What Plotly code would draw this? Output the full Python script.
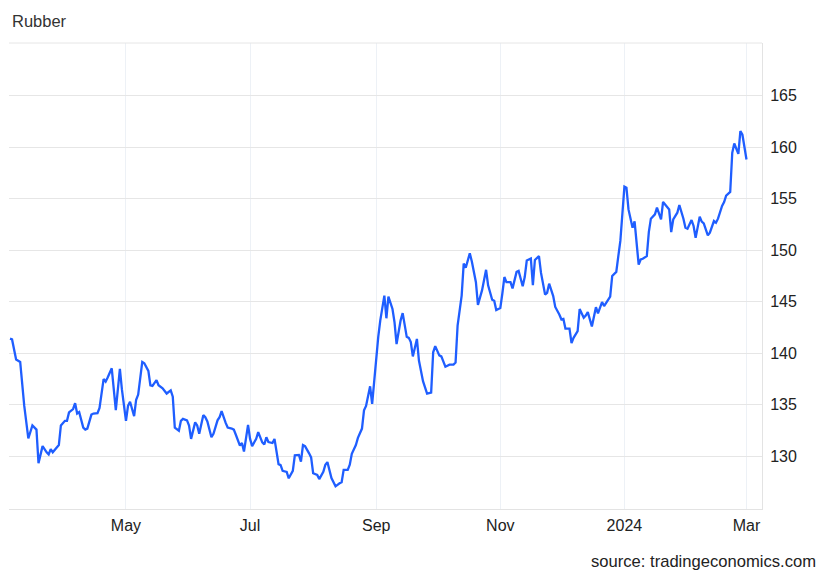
import plotly.graph_objects as go

dates = [
    "2023-03-05", "2023-03-06", "2023-03-08", "2023-03-09", "2023-03-10", "2023-03-12", "2023-03-14", "2023-03-16",
    "2023-03-18", "2023-03-19", "2023-03-21", "2023-03-23", "2023-03-24", "2023-03-25", "2023-03-26", "2023-03-29",
    "2023-03-30", "2023-04-01", "2023-04-02", "2023-04-03", "2023-04-05", "2023-04-06", "2023-04-07", "2023-04-08",
    "2023-04-10", "2023-04-11", "2023-04-12", "2023-04-14", "2023-04-15", "2023-04-17", "2023-04-18", "2023-04-20",
    "2023-04-21", "2023-04-22", "2023-04-24", "2023-04-26", "2023-04-28", "2023-04-29", "2023-05-01", "2023-05-02",
    "2023-05-03", "2023-05-05", "2023-05-06", "2023-05-07", "2023-05-09", "2023-05-10", "2023-05-12", "2023-05-13",
    "2023-05-14", "2023-05-16", "2023-05-17", "2023-05-19", "2023-05-21", "2023-05-23", "2023-05-24", "2023-05-25",
    "2023-05-27", "2023-05-28", "2023-05-29", "2023-05-31", "2023-06-01", "2023-06-02", "2023-06-04", "2023-06-05",
    "2023-06-06", "2023-06-08", "2023-06-09", "2023-06-10", "2023-06-12", "2023-06-13", "2023-06-15", "2023-06-16",
    "2023-06-17", "2023-06-19", "2023-06-20", "2023-06-22", "2023-06-23", "2023-06-24", "2023-06-26", "2023-06-27",
    "2023-06-28", "2023-06-30", "2023-07-01", "2023-07-02", "2023-07-04", "2023-07-05", "2023-07-07", "2023-07-08",
    "2023-07-09", "2023-07-10", "2023-07-12", "2023-07-13", "2023-07-15", "2023-07-16", "2023-07-17", "2023-07-19",
    "2023-07-20", "2023-07-22", "2023-07-23", "2023-07-25", "2023-07-26", "2023-07-27", "2023-07-28", "2023-07-30",
    "2023-07-31", "2023-08-01", "2023-08-03", "2023-08-04", "2023-08-06", "2023-08-07", "2023-08-08", "2023-08-10",
    "2023-08-11", "2023-08-12", "2023-08-14", "2023-08-15", "2023-08-16", "2023-08-18", "2023-08-19", "2023-08-20",
    "2023-08-22", "2023-08-23", "2023-08-25", "2023-08-26", "2023-08-27", "2023-08-29", "2023-08-30", "2023-09-01",
    "2023-09-02", "2023-09-03", "2023-09-05", "2023-09-06", "2023-09-07", "2023-09-09", "2023-09-10", "2023-09-11",
    "2023-09-13", "2023-09-14", "2023-09-16", "2023-09-17", "2023-09-18", "2023-09-19", "2023-09-21", "2023-09-22",
    "2023-09-24", "2023-09-25", "2023-09-26", "2023-09-28", "2023-09-29", "2023-09-30", "2023-10-02", "2023-10-03",
    "2023-10-05", "2023-10-06", "2023-10-07", "2023-10-09", "2023-10-10", "2023-10-11", "2023-10-13", "2023-10-14",
    "2023-10-15", "2023-10-17", "2023-10-18", "2023-10-20", "2023-10-21", "2023-10-22", "2023-10-23", "2023-10-25",
    "2023-10-26", "2023-10-28", "2023-10-29", "2023-10-30", "2023-11-01", "2023-11-02", "2023-11-03", "2023-11-04",
    "2023-11-06", "2023-11-07", "2023-11-09", "2023-11-10", "2023-11-12", "2023-11-13", "2023-11-14", "2023-11-16",
    "2023-11-17", "2023-11-18", "2023-11-20", "2023-11-21", "2023-11-23", "2023-11-24", "2023-11-25", "2023-11-27",
    "2023-11-28", "2023-11-30", "2023-12-01", "2023-12-02", "2023-12-03", "2023-12-05", "2023-12-06", "2023-12-07",
    "2023-12-09", "2023-12-10", "2023-12-12", "2023-12-13", "2023-12-14", "2023-12-16", "2023-12-17", "2023-12-18",
    "2023-12-19", "2023-12-21", "2023-12-22", "2023-12-24", "2023-12-25", "2023-12-26", "2023-12-28", "2023-12-29",
    "2023-12-30", "2024-01-01", "2024-01-02", "2024-01-03", "2024-01-05", "2024-01-06", "2024-01-08", "2024-01-09",
    "2024-01-10", "2024-01-12", "2024-01-13", "2024-01-14", "2024-01-16", "2024-01-17", "2024-01-19", "2024-01-20",
    "2024-01-21", "2024-01-23", "2024-01-24", "2024-01-25", "2024-01-27", "2024-01-28", "2024-01-30", "2024-01-31",
    "2024-02-01", "2024-02-03", "2024-02-04", "2024-02-05", "2024-02-07", "2024-02-08", "2024-02-09", "2024-02-11",
    "2024-02-12", "2024-02-14", "2024-02-15", "2024-02-16", "2024-02-18", "2024-02-19", "2024-02-20", "2024-02-22",
    "2024-02-23", "2024-02-24", "2024-02-26", "2024-02-27", "2024-02-28", "2024-03-01",
]

prices = [
    141.42, 141.35, 139.4, 139.26, 139.16, 134.9, 131.74, 133.0,
    132.6, 129.35, 131.0, 130.4, 130.2, 130.7, 130.4, 131.1,
    133.0, 133.45, 133.45, 134.26, 134.6, 135.16, 134.16, 134.3,
    132.8, 132.6, 132.7, 134.06, 134.16, 134.2, 134.7, 137.5,
    137.26, 137.65, 138.55, 134.5, 138.5, 136.5, 133.45, 134.9,
    135.3, 133.9, 135.5, 136.0, 139.16, 139.03, 138.3, 136.9,
    136.84, 137.4, 136.9, 136.6, 136.1, 136.4, 135.8, 132.8,
    132.5, 133.45, 133.64, 133.5, 133.0, 131.7, 133.3, 133.0,
    132.2, 134.0, 133.8, 133.4, 131.86, 132.2, 133.5, 133.8,
    134.4, 133.25, 132.8, 132.7, 132.6, 132.1, 131.05, 131.3,
    130.47, 133.06, 131.7, 131.0, 131.7, 132.35, 131.36, 131.15,
    131.86, 131.4, 131.3, 131.7, 129.25, 129.15, 128.6, 128.5,
    127.88, 128.6, 130.1, 130.14, 129.5, 131.1, 131.0, 130.3,
    129.9, 128.37, 128.2, 127.8, 128.5, 129.2, 129.45, 127.9,
    127.5, 127.1, 127.4, 127.5, 128.7, 128.7, 129.2, 130.26,
    131.1, 131.8, 132.7, 134.47, 134.9, 136.8, 135.1, 139.8,
    141.6, 143.2, 145.6, 143.4, 145.5, 144.3, 143.0, 140.9,
    143.2, 143.9, 141.6, 141.5, 141.1, 139.7, 141.4, 139.3,
    137.3, 136.7, 136.1, 136.2, 140.1, 140.7, 139.8, 139.7,
    138.7, 138.8, 138.9, 138.9, 139.1, 142.7, 145.6, 148.7,
    148.3, 149.7, 148.9, 146.9, 144.7, 145.4, 146.1, 148.1,
    146.6, 145.2, 145.1, 144.2, 144.4, 145.8, 147.4, 146.9,
    146.9, 146.3, 147.9, 148.0, 146.5, 147.4, 149.0, 149.2,
    146.6, 149.05, 149.43, 147.8, 145.7, 145.87, 146.75, 145.55,
    144.5, 143.77, 143.3, 143.35, 142.4, 142.4, 141.0, 141.5,
    142.15, 144.3, 143.45, 143.67, 144.0, 142.6, 143.6, 144.48,
    143.87, 144.97, 144.58, 145.23, 145.5, 147.5, 147.9, 149.43,
    150.9, 156.17, 156.07, 153.96, 152.18, 152.8, 148.6, 149.1,
    149.17, 149.43, 151.76, 153.06, 153.48, 154.13, 153.0, 154.68,
    154.45, 153.96, 151.76, 153.0, 153.64, 154.39, 153.06, 152.18,
    152.09, 152.93, 152.35, 151.2, 153.25, 152.77, 152.6, 151.44,
    151.7, 152.83, 152.67, 153.06, 154.29, 154.68, 155.3, 155.65,
    159.45, 160.35, 159.35, 161.55, 161.2, 158.8,
]

x_tick_vals = ["2023-05-01", "2023-07-01", "2023-09-01", "2023-11-01", "2024-01-01", "2024-03-01"]
x_tick_text = ["May", "Jul", "Sep", "Nov", "2024", "Mar"]
y_tick_vals = [130, 135, 140, 145, 150, 155, 160, 165]

FONT = "Liberation Sans, Arial, sans-serif"

fig = go.Figure()
fig.add_trace(go.Scatter(
    x=dates, y=prices, mode="lines",
    line=dict(color="#1f5eff", width=2.3),
    hoverinfo="skip", showlegend=False,
))

fig.update_layout(
    width=830, height=575,
    margin=dict(l=9, r=68, t=43, b=66),
    paper_bgcolor="white", plot_bgcolor="white",
    font=dict(family=FONT, size=16, color="#222222"),
    xaxis=dict(
        type="date",
        range=["2023-03-04 12:00", "2024-03-08 15:00"],
        tickvals=x_tick_vals, ticktext=x_tick_text,
        showgrid=True, gridcolor="#edf1f6", gridwidth=1,
        showline=True, linecolor="#e3e3e3", linewidth=1,
        ticks="outside", ticklen=2, tickcolor="rgba(0,0,0,0)", zeroline=False,
        tickfont=dict(family=FONT, size=16, color="#222222"),
    ),
    yaxis=dict(
        side="right",
        range=[124.9, 170.1],
        tickvals=y_tick_vals,
        showgrid=True, gridcolor="#e6e6e6", gridwidth=1,
        showline=True, linecolor="#e3e3e3", linewidth=1,
        ticks="outside", ticklen=4, tickcolor="rgba(0,0,0,0)",
        zeroline=False,
        tickfont=dict(family=FONT, size=16, color="#222222"),
    ),
    shapes=[dict(type="line", xref="paper", yref="paper", x0=0, x1=1, y0=1, y1=1,
                 line=dict(color="#e6e6e6", width=1))],
    annotations=[
        dict(text="Rubber", xref="paper", yref="paper", x=0.001, y=1.047,
             xanchor="left", yanchor="middle", showarrow=False,
             font=dict(family=FONT, size=16.5, color="#333333")),
        dict(text="source: tradingeconomics.com", xref="paper", yref="paper", x=1.0744, y=-0.1137,
             xanchor="right", yanchor="middle", showarrow=False,
             font=dict(family=FONT, size=16.6, color="#222222")),
    ],
)

fig.write_html(
    "out.html",
    config={"displayModeBar": False},
    post_script="document.body.style.margin='0';document.body.style.padding='0';document.body.style.overflow='hidden';",
)
